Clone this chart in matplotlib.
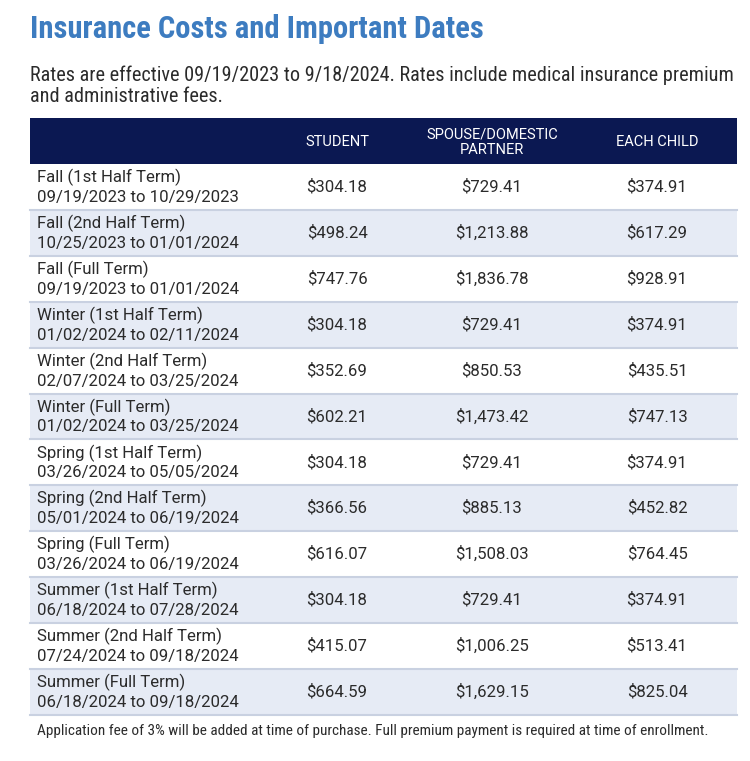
import matplotlib
matplotlib.use('Agg')
import matplotlib.pyplot as plt
from matplotlib.patches import Rectangle

# table content
terms = ['Fall (1st Half Term)', 'Fall (2nd Half Term)', 'Fall (Full Term)',
         'Winter (1st Half Term)', 'Winter (2nd Half Term)', 'Winter (Full Term)',
         'Spring (1st Half Term)', 'Spring (2nd Half Term)', 'Spring (Full Term)',
         'Summer (1st Half Term)', 'Summer (2nd Half Term)', 'Summer (Full Term)']
dates = ['09/19/2023 to 10/29/2023', '10/25/2023 to 01/01/2024', '09/19/2023 to 01/01/2024',
         '01/02/2024 to 02/11/2024', '02/07/2024 to 03/25/2024', '01/02/2024 to 03/25/2024',
         '03/26/2024 to 05/05/2024', '05/01/2024 to 06/19/2024', '03/26/2024 to 06/19/2024',
         '06/18/2024 to 07/28/2024', '07/24/2024 to 09/18/2024', '06/18/2024 to 09/18/2024']
student = ['$304.18', '$498.24', '$747.76', '$304.18', '$352.69', '$602.21',
           '$304.18', '$366.56', '$616.07', '$304.18', '$415.07', '$664.59']
spouse = ['$729.41', '$1,213.88', '$1,836.78', '$729.41', '$850.53', '$1,473.42',
          '$729.41', '$885.13', '$1,508.03', '$729.41', '$1,006.25', '$1,629.15']
child = ['$374.91', '$617.29', '$928.91', '$374.91', '$435.51', '$747.13',
         '$374.91', '$452.82', '$764.45', '$374.91', '$513.41', '$825.04']
headers = ['STUDENT', 'SPOUSE/DOMESTIC\nPARTNER', 'EACH CHILD']

title = 'Insurance Costs and Important Dates'
subtitle = ['Rates are effective 09/19/2023 to 9/18/2024. Rates include medical insurance premium',
            'and administrative fees.']
footnote = ('Application fee of 3% will be added at time of purchase. '
            'Full premium payment is required at time of enrollment.')

BODY = ['Roboto', 'Liberation Sans', 'DejaVu Sans']
HEAD = ['Roboto Condensed', 'Liberation Sans', 'DejaVu Sans']
NAVY = '#0b1852'
SHADE = '#e6ebf5'
LINE = '#c9d1e1'
TEXT = '#2b2b2b'


def fit_size(fig, s, family, width, weight='normal'):
    # font size that makes string s about `width` pixels wide
    r = fig.canvas.get_renderer()
    t = fig.text(0, 0, s, fontsize=10, family=family, fontweight=weight)
    w = t.get_window_extent(renderer=r).width
    t.remove()
    return 10 * width / w


def main():
    fig = plt.figure(figsize=(7.5, 7.61), dpi=100)
    ax = fig.add_axes([0, 0, 1, 1])
    ax.set_xlim(0, 750)
    ax.set_ylim(761, 0)
    ax.axis('off')

    title_fs = fit_size(fig, title, HEAD, 452, 'bold')
    sub_fs = fit_size(fig, subtitle[0], HEAD, 697)
    body_fs = fit_size(fig, dates[3], BODY, 201)
    head_fs = fit_size(fig, 'EACH CHILD', BODY, 82)
    foot_fs = fit_size(fig, footnote, HEAD, 669)

    ax.text(30, 29, title, fontsize=title_fs, fontweight='bold', color='#3d7cc0',
            family=HEAD, va='center', ha='left')
    ax.text(30, 75, subtitle[0], fontsize=sub_fs, color=TEXT, family=HEAD,
            va='center', ha='left')
    ax.text(30, 97, subtitle[1], fontsize=sub_fs, color=TEXT, family=HEAD,
            va='center', ha='left')

    left, right = 30, 737
    head_top, head_bot = 118, 164
    row_h = 45.9
    col_x = [337, 492, 657]

    ax.add_patch(Rectangle((left, head_top), right - left, head_bot - head_top,
                           color=NAVY, lw=0))
    for x, h in zip(col_x, headers):
        ax.text(x, (head_top + head_bot) / 2 + 1, h, fontsize=head_fs, color='white',
                family=BODY, ha='center', va='center', linespacing=1.1)

    for i in range(len(terms)):
        top = head_bot + i * row_h
        if i % 2 == 1:
            ax.add_patch(Rectangle((left, top), right - left, row_h, color=SHADE, lw=0))
        ax.plot([left, right], [top + row_h, top + row_h], color=LINE, lw=1.5)
        ax.text(37, top + 13.5, terms[i], fontsize=body_fs, color=TEXT, family=BODY,
                ha='left', va='center')
        ax.text(37, top + 33.5, dates[i], fontsize=body_fs, color=TEXT, family=BODY,
                ha='left', va='center')
        for x, v in zip(col_x, [student[i], spouse[i], child[i]]):
            ax.text(x, top + row_h / 2, v, fontsize=body_fs, color=TEXT, family=BODY,
                    ha='center', va='center')

    ax.text(37, 731, footnote, fontsize=foot_fs, color=TEXT, family=HEAD,
            ha='left', va='center')

    fig.savefig('out.png', dpi=100)


if __name__ == '__main__':
    main()
